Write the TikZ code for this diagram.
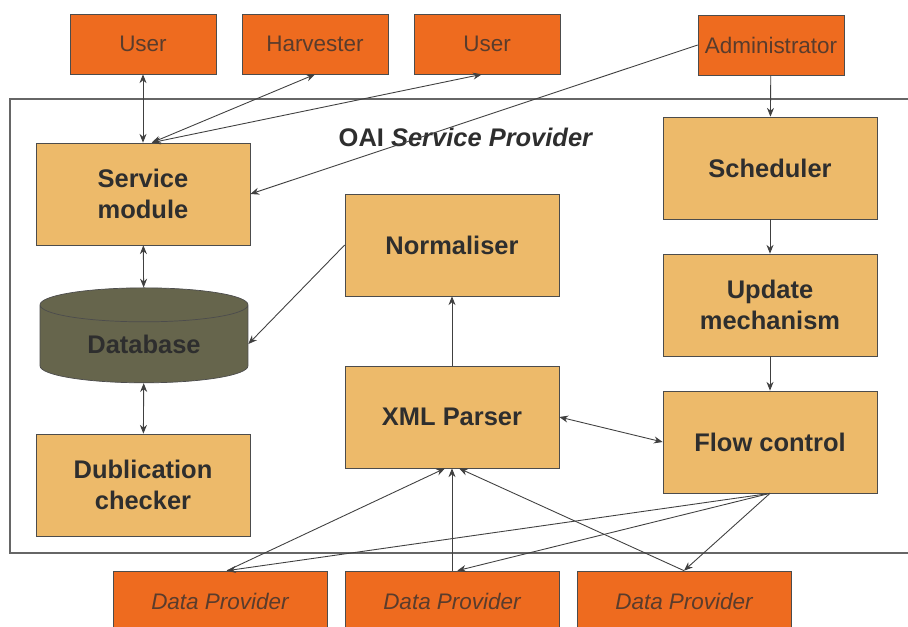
\documentclass[tikz,border=0pt]{standalone}
\usepackage{fontspec}
\setmainfont{Liberation Sans}
\usetikzlibrary{arrows.meta,shapes.geometric}
\definecolor{actor}{HTML}{EE6B1F}
\definecolor{actorink}{HTML}{5A3C2C}
\definecolor{module}{HTML}{EDBA6A}
\definecolor{dbfill}{HTML}{66654C}
\definecolor{ink}{HTML}{2E2E2E}

\begin{document}
\begin{tikzpicture}[x=0.02cm,y=-0.02cm]
        \clip (0,0) rectangle (908,626);
        \fill[white] (0,0) rectangle (908,626);

        % frame of the service provider
        \draw[black!60, line width=0.8pt] (915,99) -- (10,99) -- (10,553) -- (915,553);
        \node[text=ink] (T) at (466,137) {\fontsize{14.5}{17}\selectfont\bfseries OAI \textit{Service Provider}};

        \begin{scope}[every node/.style = {draw=black!70, fill=actor, text=actorink,
                        minimum width=2.92cm, minimum height=1.2cm, inner sep=0pt,
                        font=\fontsize{12.8}{15}\selectfont}]
            \node (U1) at (143,44)  {User};
            \node (HV) at (315,44)  {Harvester};
            \node (U2) at (487,44)  {User};
            \node (AD) at (771,45)  {Administrator};

            \node[minimum width=4.28cm] (DP1) at (220,601) {\itshape Data Provider};
            \node[minimum width=4.28cm] (DP2) at (452,601) {\itshape Data Provider};
            \node[minimum width=4.28cm] (DP3) at (684,601) {\itshape Data Provider};
        \end{scope}

        \begin{scope}[every node/.style = {draw=black!70, fill=module, text=ink,
                        minimum width=4.28cm, minimum height=2.04cm, inner sep=0pt,
                        align=center, font=\fontsize{14.5}{17.5}\selectfont\bfseries}]
            \node (SM) at (143,194) {Service\\module};
            \node (DC) at (143,485) {Dublication\\checker};

            \node (NO) at (452,245) {Normaliser};
            \node (XP) at (452,417) {XML Parser};

            \node (SC) at (770,168) {Scheduler};
            \node (UM) at (770,305) {Update\\mechanism};
            \node (FC) at (770,442) {Flow control};
        \end{scope}

        \node[cylinder, shape border rotate=90, aspect=0.3, draw=black!70, fill=dbfill,
              text=ink, minimum width=4.16cm, minimum height=1.9cm, inner sep=0pt,
              font=\fontsize{14.5}{17.5}\selectfont\bfseries] (DB) at (144,344) {Database};

        \begin{scope}[>={Stealth[length=5pt,width=4pt]},
                        every edge/.style={draw=black!75, line width=0.5pt}]
            \path [<->] (U1) edge (SM);
            \path [<->] ([xshift=5pt]SM.north) edge (HV.south);
            \path [<->] ([xshift=5pt]SM.north) edge ([xshift=-3pt]U2.south);
            \path [->] (AD.west) edge (SM.east);
            \path [->] (AD) edge (SC);

            \path [->] (SC) edge (UM);
            \path [->] (UM) edge (FC);

            \path [<->] (SM) edge (DB);
            \path [<->] (DB) edge (DC);
            \path [->] (NO.west) edge (DB.east);

            \path [->] (XP) edge (NO);
            \path [<->] (XP.east) edge (FC.west);

            \path [->] ([xshift=4pt]DP1.north) edge ([xshift=-4pt]XP.south);
            \path [->] (DP2) edge (XP);
            \path [->] (DP3.north) edge ([xshift=4pt]XP.south);

            \path [->] (FC.south) edge ([xshift=4pt]DP1.north);
            \path [->] (FC.south) edge ([xshift=3pt]DP2.north);
            \path [->] (FC.south) edge (DP3.north);
        \end{scope}
    \end{tikzpicture}
\end{document}
